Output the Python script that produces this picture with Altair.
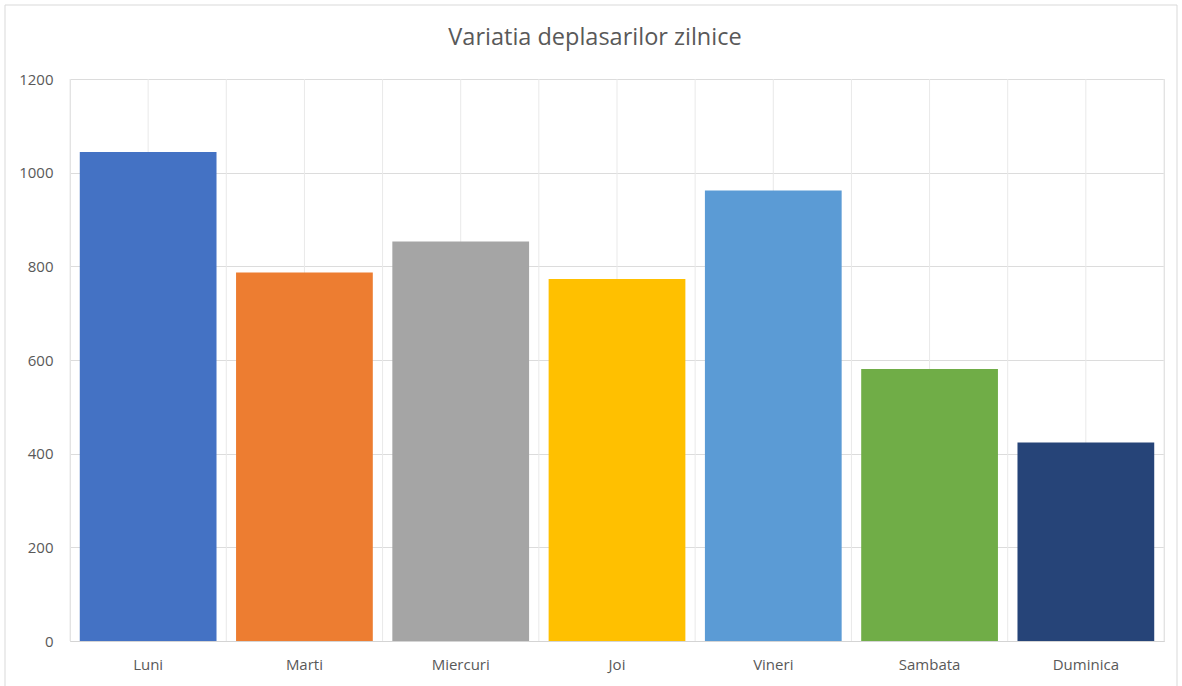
import altair as alt
import pandas as pd

# Daily trips per weekday
days = ["Luni", "Marti", "Miercuri", "Joi", "Vineri", "Sambata", "Duminica"]
trips = [1044, 787, 853, 773, 962, 581, 424]
colors = ["#4472C4", "#ED7D31", "#A5A5A5", "#FFC000", "#5B9BD5", "#70AD47", "#264478"]
y_ticks = [0, 200, 400, 600, 800, 1000, 1200]

W, H = 1094, 562
FONT = "Open Sans"
TEXT = "#595959"

df = pd.DataFrame({"zi": days, "deplasari": trips})

# vertical gridlines at every category edge and centre
grid_pos = [k / 2 for k in range(2 * len(days) + 1)]
grid_df = pd.DataFrame({"g": grid_pos})

vgrid = alt.Chart(grid_df).mark_rule(color="#e9e9e9", strokeWidth=1).encode(
    x=alt.X("g:Q", scale=alt.Scale(domain=[0, len(days)], nice=False, zero=False), axis=None),
    y=alt.value(0),
    y2=alt.value(H),
)

bars = alt.Chart(df).mark_bar().encode(
    x=alt.X(
        "zi:N",
        sort=days,
        scale=alt.Scale(paddingInner=0.125, paddingOuter=0.0625),
        axis=alt.Axis(
            title=None, labelAngle=0, ticks=False, grid=False,
            domainColor="#d4d4d4", domainWidth=1,
            labelFont=FONT, labelFontSize=15, labelColor=TEXT, labelPadding=16,
        ),
    ),
    y=alt.Y(
        "deplasari:Q",
        scale=alt.Scale(domain=[0, 1200], nice=False),
        axis=alt.Axis(
            title=None, values=y_ticks, format="d", ticks=False, domain=False,
            gridColor="#dcdcdc", gridWidth=1,
            labelFont=FONT, labelFontSize=15, labelColor=TEXT, labelPadding=17,
        ),
    ),
    color=alt.Color("zi:N", sort=days, scale=alt.Scale(domain=days, range=colors), legend=None),
)

# thin frame around the whole chart
frame = alt.Chart(pd.DataFrame({"a": [0]})).mark_rect(
    fill=None, stroke="#d9d9d9", strokeWidth=1, clip=False
).encode(
    x=alt.value(-65), x2=alt.value(W + 13),
    y=alt.value(-74), y2=alt.value(H + 50),
)

title = alt.Chart(pd.DataFrame({"t": ["Variatia deplasarilor zilnice"]})).mark_text(
    font=FONT, fontSize=23.5, color=TEXT, align="center", baseline="middle"
).encode(
    text="t:N",
    x=alt.value(595 - 70),
    y=alt.value(38 - 79),
)

chart = alt.layer(vgrid, bars, frame, title).resolve_scale(
    x="independent"
).properties(
    width=W, height=H,
    autosize=alt.AutoSizeParams(type="none"),
    padding={"left": 70, "top": 79, "right": 18, "bottom": 45},
).configure_view(stroke=None).configure(background="white")

chart.save("out.html", embed_options={"renderer": "svg", "actions": False})
